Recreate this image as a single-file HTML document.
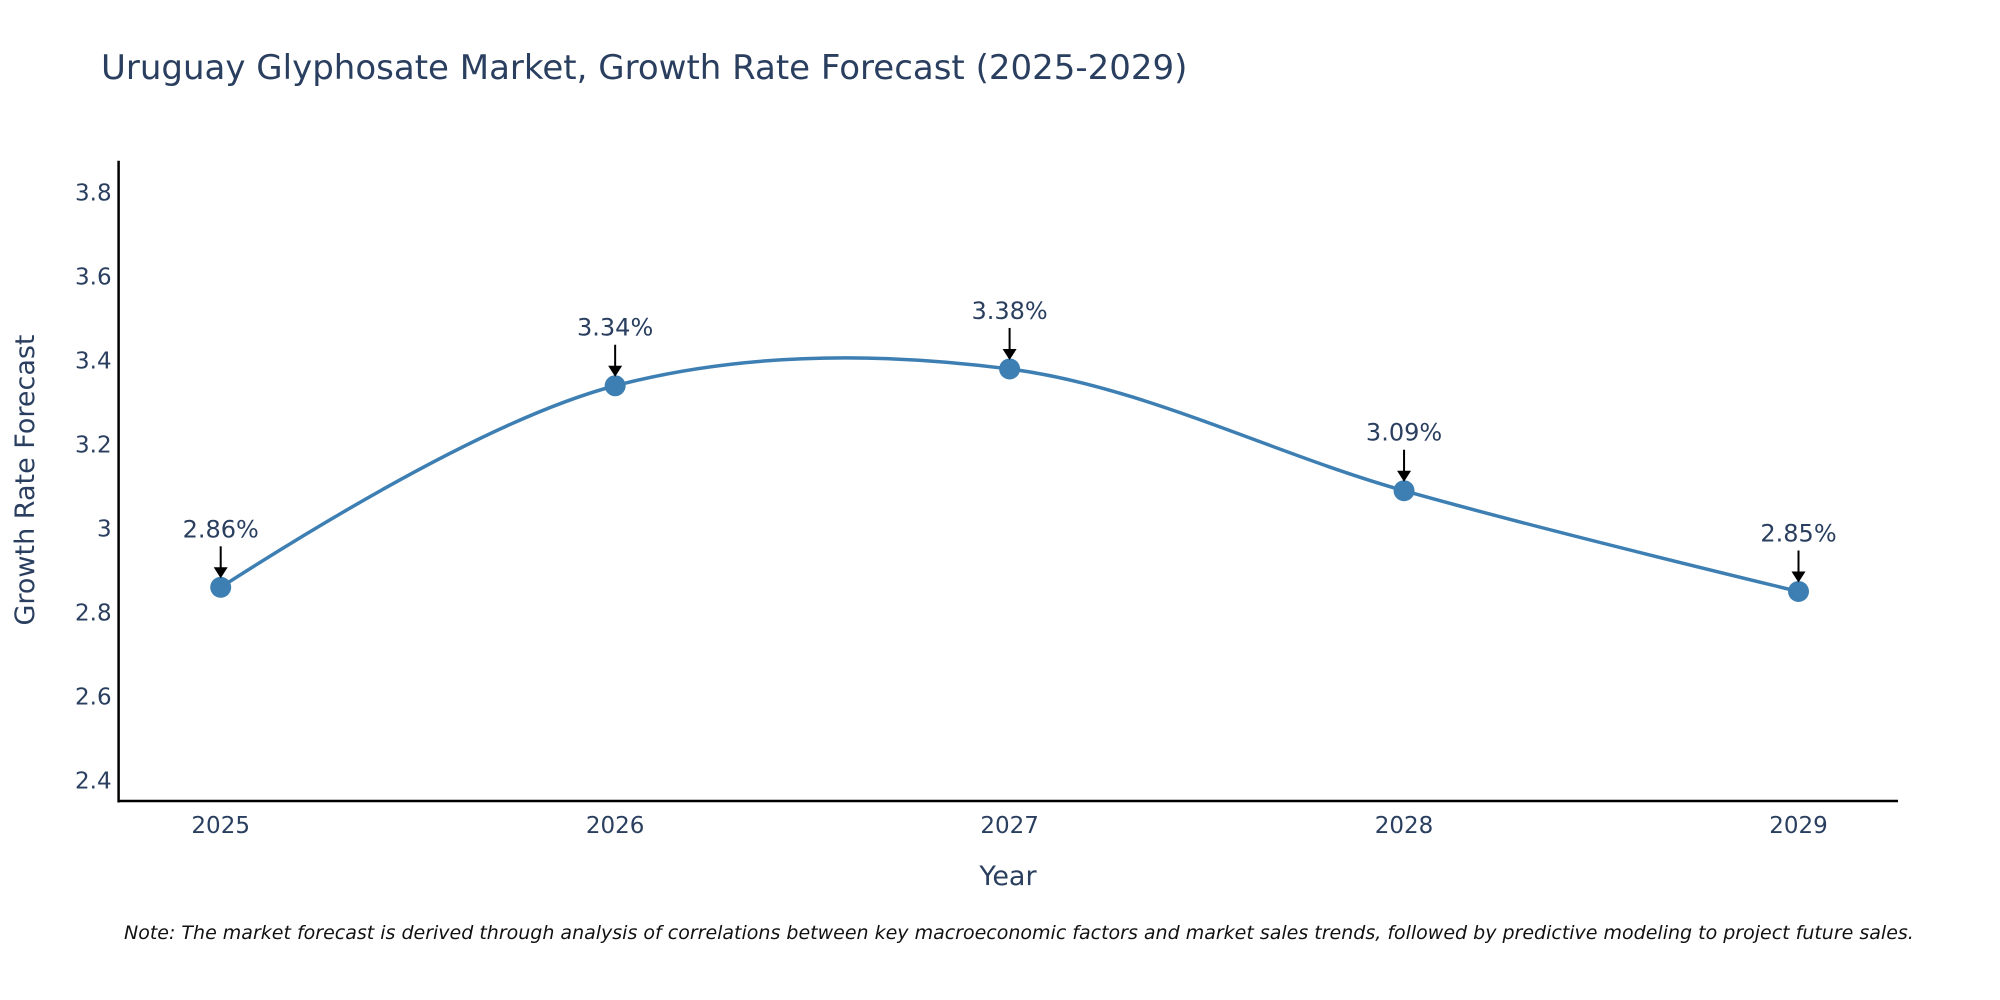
<!DOCTYPE html>
<html><head><meta charset="utf-8"><style>
body{margin:0;background:#fff;}
svg{display:block;font-family:"DejaVu Sans","Liberation Sans",sans-serif;}
</style></head><body>
<svg id="chart" width="2000" height="1000" viewBox="0 0 2000 1000" xmlns="http://www.w3.org/2000/svg">
<rect width="2000" height="1000" fill="#fff"/>
<text x="101" y="79" font-size="34" fill="#2a3f5f">Uruguay Glyphosate Market, Growth Rate Forecast (2025-2029)</text>
<g id="axes"></g>
<g id="series"></g>
<g id="annots"></g>
<text x="1008" y="885" font-size="27" fill="#2a3f5f" text-anchor="middle">Year</text>
<text transform="translate(34,480) rotate(-90)" font-size="27" fill="#2a3f5f" text-anchor="middle">Growth Rate Forecast</text>
<text x="124" y="939" font-size="19" font-style="italic" fill="#111">Note: The market forecast is derived through analysis of correlations between key macroeconomic factors and market sales trends, followed by predictive modeling to project future sales.</text>
</svg>
<script>
const years = ["2025","2026","2027","2028","2029"];
const values = [2.86, 3.34, 3.38, 3.09, 2.85];
const labels = ["2.86%","3.34%","3.38%","3.09%","2.85%"];
const yTicks = [2.4, 2.6, 2.8, 3, 3.2, 3.4, 3.6, 3.8];
const yTickLabels = ["2.4","2.6","2.8","3","3.2","3.4","3.6","3.8"];

const NS="http://www.w3.org/2000/svg";
const L=118.6,R=1898,T=160.7,B=801;
const yMin=2.351,yMax=3.876;
const x0=220.7,x1=1798.5;
function xs(i){return x0+(x1-x0)*i/(years.length-1);}
function ys(v){return B-(v-yMin)/(yMax-yMin)*(B-T);}
function mk(tag,attrs,parent){const e=document.createElementNS(NS,tag);for(const k in attrs)e.setAttribute(k,attrs[k]);parent.appendChild(e);return e;}
const axes=document.getElementById('axes'),series=document.getElementById('series'),ann=document.getElementById('annots');

let a=mk('line',{x1:L,y1:T,x2:L,y2:B+1.5,stroke:'#000','stroke-width':2.5},axes);


a=mk('line',{x1:L-1,y1:B,x2:R,y2:B,stroke:'#000','stroke-width':2.5},axes);


yTicks.forEach((v,i)=>{
  const t=mk('text',{x:L-7,y:ys(v)+8,'font-size':23,fill:'#2a3f5f','text-anchor':'end'},axes);
  t.textContent=yTickLabels[i];
  
  
});
years.forEach((y,i)=>{
  const t=mk('text',{x:xs(i),y:833,'font-size':23,fill:'#2a3f5f','text-anchor':'middle'},axes);
  t.textContent=y;
  
  
});

const pts=values.map((v,i)=>[xs(i),ys(v)]);
function tangent(p,c,n,s){
  const d1x=p[0]-c[0],d1y=p[1]-c[1],d2x=n[0]-c[0],d2y=n[1]-c[1];
  const d1a=Math.pow(d1x*d1x+d1y*d1y,0.25),d2a=Math.pow(d2x*d2x+d2y*d2y,0.25);
  const nx=(d2a*d2a*d1x-d1a*d1a*d2x)*s,ny=(d2a*d2a*d1y-d1a*d1a*d2y)*s;
  const den1=3*d2a*(d1a+d2a),den2=3*d1a*(d1a+d2a);
  return [[c[0]+nx/den1,c[1]+ny/den1],[c[0]-nx/den2,c[1]-ny/den2]];
}
const tg=[];
for(let i=1;i<pts.length-1;i++)tg.push(tangent(pts[i-1],pts[i],pts[i+1],1));
const P=q=>q[0].toFixed(2)+','+q[1].toFixed(2);
let d='M'+P(pts[0])+'Q'+P(tg[0][0])+' '+P(pts[1]);
for(let i=2;i<pts.length-1;i++)d+='C'+P(tg[i-2][1])+' '+P(tg[i-1][0])+' '+P(pts[i]);
d+='Q'+P(tg[pts.length-3][1])+' '+P(pts[pts.length-1]);
const line=mk('path',{d:d,fill:'none',stroke:'#3d7fb3','stroke-width':3.5},series);


pts.forEach((p,i)=>{
  const c=mk('circle',{cx:p[0],cy:p[1],r:10.5,fill:'#3d7fb3'},series);
  
  
  const g=mk('g',{},ann);
  
  
  mk('line',{x1:p[0],y1:p[1]-41,x2:p[0],y2:p[1]-18,stroke:'#000','stroke-width':2},g);
  mk('polygon',{points:`${p[0]-7},${p[1]-20} ${p[0]+7},${p[1]-20} ${p[0]},${p[1]-9}`,fill:'#000'},g);
  const t=mk('text',{x:p[0],y:p[1]-50,'font-size':24,fill:'#2a3f5f','text-anchor':'middle'},g);
  t.textContent=labels[i];
});
</script>
</body></html>
